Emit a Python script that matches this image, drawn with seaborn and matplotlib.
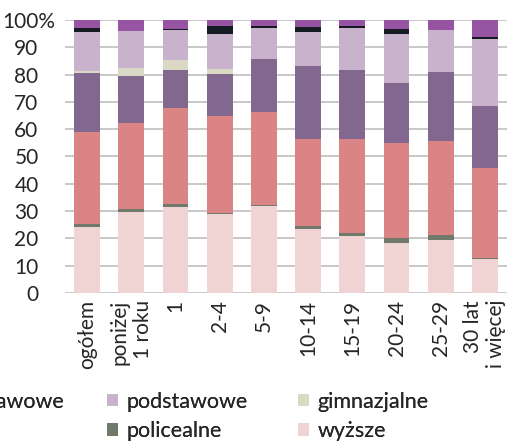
import matplotlib
matplotlib.use("Agg")
import matplotlib.pyplot as plt
import seaborn as sns
from matplotlib.patches import Patch
from matplotlib.transforms import ScaledTranslation

kategorie = ["ogółem", "poniżej\n1 roku", "1", "2-4", "5-9", "10-14",
             "15-19", "20-24", "25-29", "30 lat\ni więcej"]

# udział (%) wg poziomu wykształcenia, od dołu słupka
wyzsze = [24.2, 29.7, 31.5, 28.9, 31.9, 23.4, 20.9, 18.3, 19.4, 12.5]
policealne = [1.1, 1.1, 1.1, 0.4, 0.3, 1.1, 1.1, 1.8, 1.8, 0.3]
srednie = [33.7, 31.5, 35.2, 35.5, 34.1, 31.9, 34.4, 34.8, 34.5, 33.0]
zasadnicze = [21.6, 17.2, 13.9, 15.4, 19.4, 26.8, 25.3, 22.0, 25.2, 22.7]
gimnazjalne = [0.7, 2.9, 3.6, 1.9, 0.0, 0.0, 0.0, 0.0, 0.0, 0.0]
podstawowe = [14.3, 13.6, 11.0, 12.8, 11.4, 12.4, 15.4, 18.0, 15.4, 24.5]
brak = [1.5, 0.0, 0.4, 2.9, 0.7, 1.8, 0.7, 1.8, 0.0, 0.8]
niepelne = [2.9, 4.0, 3.3, 2.2, 2.2, 2.6, 2.2, 3.3, 3.7, 6.2]

serie = [
    ("wyższe", wyzsze, "#F0D3D3"),
    ("policealne", policealne, "#717A6A"),
    ("średnie", srednie, "#DB8486"),
    ("zasadnicze zawodowe", zasadnicze, "#82678F"),
    ("gimnazjalne", gimnazjalne, "#D9D9C6"),
    ("podstawowe", podstawowe, "#C9B3CC"),
    ("brak danych", brak, "#151B23"),
    ("niepełne podstawowe", niepelne, "#9654A2"),
]

sns.set_style("white")
plt.rcParams["font.family"] = ["Lato", "DejaVu Sans"]
FS = 15

fig = plt.figure(figsize=(5.07, 4.41), dpi=100)
ax = fig.add_axes([65 / 507, 148 / 441, 442 / 507, 273 / 441])

# słupki skumulowane: rysujemy sumy od góry, każda kolejna przykrywa poprzednią
sumy = []
akt = [0.0] * len(kategorie)
for nazwa, wart, kolor in serie:
    akt = [a + w for a, w in zip(akt, wart)]
    sumy.append((list(akt), kolor))

for cum, kolor in reversed(sumy):
    sns.barplot(x=kategorie, y=cum, color=kolor, saturation=1, width=0.58,
                ax=ax, linewidth=0)

ax.set_ylim(0, 100)
ax.set_xlim(-0.5, 9.5)
ax.set_yticks(range(0, 101, 10))
ax.set_yticklabels([str(v) for v in range(0, 100, 10)] + ["100%"])
ax.yaxis.grid(True, color="#C4C4C4", linewidth=1.3)
ax.set_axisbelow(True)
for s in ax.spines.values():
    s.set_visible(False)
ax.tick_params(axis="y", length=3, color="#C4C4C4", width=1.3, pad=16,
               labelsize=FS, labelcolor="#262626")
ax.tick_params(axis="x", length=0, pad=5, labelsize=FS, labelcolor="#262626")
for lab in ax.get_xticklabels():
    lab.set_rotation(90)
    lab.set_multialignment("right")
# "%" wystaje poza wyrównanie cyfr
top = ax.get_yticklabels()[-1]
top.set_transform(top.get_transform() + ScaledTranslation(17 / 100, 0, fig.dpi_scale_trans))
ax.set_xlabel("")
ax.set_ylabel("")

kol = {n: c for n, _, c in serie}
leg_kw = dict(frameon=False, fontsize=15.5, handlelength=0.5, handleheight=0.5,
              handletextpad=0.4, labelspacing=0.42, borderpad=0, borderaxespad=0,
              labelcolor="#262626")
y_leg = 1 - 392 / 441
kolumny = [
    (["niepełne podstawowe", "średnie"], "upper right", 64),
    (["podstawowe", "policealne"], "upper left", 107),
    (["gimnazjalne", "wyższe"], "upper left", 298),
]
for nazwy, loc, x in kolumny:
    h = [Patch(facecolor=kol[n], edgecolor="none", label=n) for n in nazwy]
    lg = fig.legend(handles=h, loc=loc, bbox_to_anchor=(x / 507, y_leg), **leg_kw)
    fig.add_artist(lg)

fig.savefig("out.png", dpi=100)
